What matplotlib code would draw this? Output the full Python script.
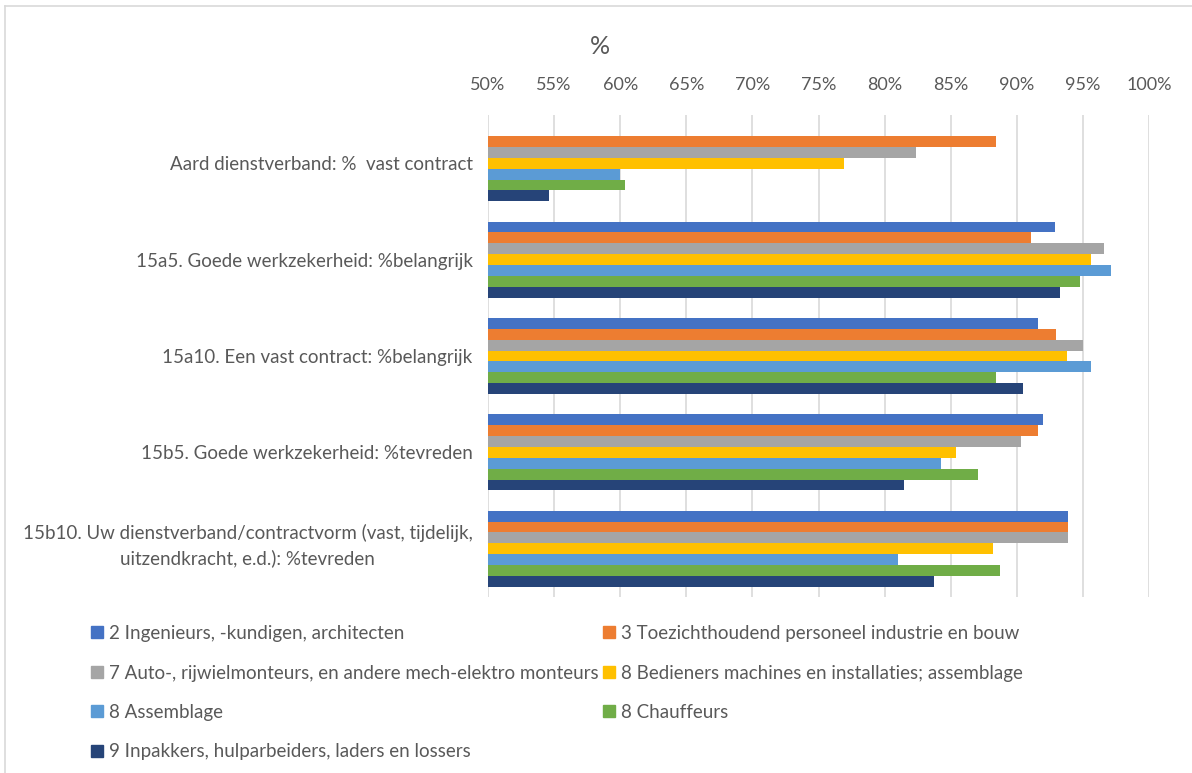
import numpy as np
import matplotlib
matplotlib.use("Agg")
import matplotlib.pyplot as plt
import matplotlib.transforms as mtransforms
from matplotlib.lines import Line2D

# categorieen (van boven naar beneden)
categorieen = [
    "Aard dienstverband: %  vast contract",
    "15a5. Goede werkzekerheid: %belangrijk",
    "15a10. Een vast contract: %belangrijk",
    "15b5. Goede werkzekerheid: %tevreden",
    "15b10. Uw dienstverband/contractvorm (vast, tijdelijk,\nuitzendkracht, e.d.): %tevreden",
]

# beroepsgroepen
groepen = [
    "2 Ingenieurs, -kundigen, architecten",
    "3 Toezichthoudend personeel industrie en bouw",
    "7 Auto-, rijwielmonteurs, en andere mech-elektro monteurs",
    "8 Bedieners machines en installaties; assemblage",
    "8 Assemblage",
    "8 Chauffeurs",
    "9 Inpakkers, hulparbeiders, laders en lossers",
]
kleuren = ["#4472C4", "#ED7D31", "#A5A5A5", "#FFC000", "#5B9BD5", "#70AD47", "#264478"]

# waarden in % per groep (None = geen gegevens)
ingenieurs = [None, 92.9, 91.6, 92.0, 93.9]
toezicht = [88.4, 91.1, 93.0, 91.6, 93.9]
monteurs = [82.4, 96.6, 95.0, 90.3, 93.9]
bedieners = [76.9, 95.6, 93.8, 85.4, 88.2]
assemblage = [60.0, 97.1, 95.6, 84.3, 81.0]
chauffeurs = [60.4, 94.8, 88.4, 87.1, 88.7]
inpakkers = [54.6, 93.3, 90.5, 81.5, 83.7]
reeksen = [ingenieurs, toezicht, monteurs, bedieners, assemblage, chauffeurs, inpakkers]

tekstkleur = "#595959"
plt.rcParams["font.family"] = ["Lato", "DejaVu Sans"]

fig = plt.figure(figsize=(11.92, 7.73), dpi=100)
ax = fig.add_axes([488 / 1192, 1 - 597 / 773, 661 / 1192, 482 / 773])

y = np.arange(len(categorieen))
h = 0.79 / len(reeksen)
for i, (naam, waarden, kleur) in enumerate(zip(groepen, reeksen, kleuren)):
    w = [np.nan if v is None else v - 50 for v in waarden]
    ax.barh(y + (i - 3) * h, w, height=h, left=50, color=kleur, label=naam, zorder=3)

ax.set_xlim(50, 100)
ax.set_ylim(4.5, -0.5)
ax.set_xticks(np.arange(50, 101, 5))
ax.set_xticklabels([f"{t}%" for t in range(50, 101, 5)])
ax.xaxis.tick_top()
ax.tick_params(axis="x", length=0, pad=16, labelsize=13, labelcolor=tekstkleur)
ax.set_yticks(y)
ax.set_yticklabels(categorieen, multialignment="center", linespacing=1.45)
ax.tick_params(axis="y", length=0, pad=11, labelsize=13.5, labelcolor=tekstkleur)
# label met twee regels iets omhoog
laatste = ax.get_yticklabels()[-1]
laatste.set_transform(laatste.get_transform() +
                      mtransforms.ScaledTranslation(0, 8 / 100, fig.dpi_scale_trans))
ax.grid(axis="x", color="#D9D9D9", linewidth=1.2, zorder=0)
for s in ax.spines.values():
    s.set_visible(False)

fig.text(600 / 1192, 1 - 46 / 773, "%", ha="center", va="center", fontsize=18, color=tekstkleur)

# legenda in twee kolommen
def handle(kleur):
    return Line2D([], [], marker="s", linestyle="none", markersize=8.5, color=kleur)

kol1 = [0, 2, 4, 6]
kol2 = [1, 3, 5]
for kol, x0 in [(kol1, 89), (kol2, 601)]:
    leg = fig.legend([handle(kleuren[i]) for i in kol], [groepen[i] for i in kol],
                     loc="upper left", bbox_to_anchor=(x0 / 1192, 1 - 625 / 773),
                     frameon=False, fontsize=13.5, labelspacing=1.2, handlelength=0.8,
                     handletextpad=0.25, borderaxespad=0, borderpad=0)
    for t in leg.get_texts():
        t.set_color(tekstkleur)

# randje links en boven
fig.add_artist(Line2D([5 / 1192, 5 / 1192], [0, 1 - 6 / 773], color="#D9D9D9", lw=1.2))
fig.add_artist(Line2D([5 / 1192, 1], [1 - 6 / 773, 1 - 6 / 773], color="#D9D9D9", lw=1.2))

fig.savefig("out.png", dpi=100, facecolor="white")
